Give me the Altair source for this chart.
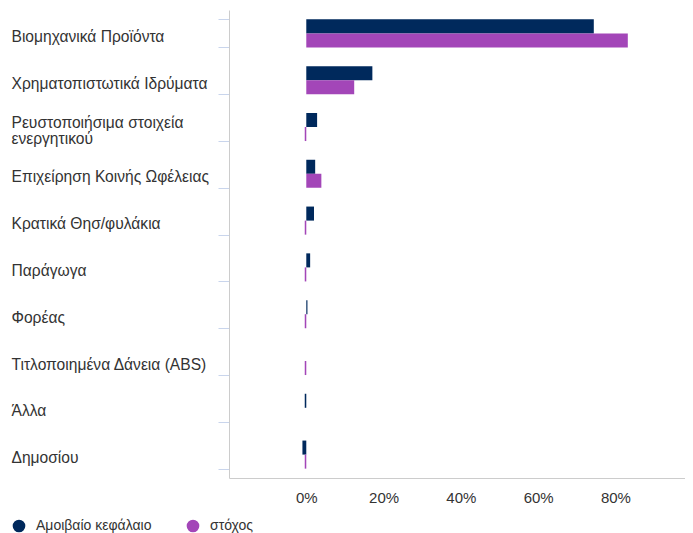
import altair as alt
import pandas as pd

categories = [
    "Βιομηχανικά Προϊόντα",
    "Χρηματοπιστωτικά Ιδρύματα",
    "Ρευστοποιήσιμα στοιχεία ενεργητικού",
    "Επιχείρηση Κοινής Ωφέλειας",
    "Κρατικά Θησ/φυλάκια",
    "Παράγωγα",
    "Φορέας",
    "Τιτλοποιημένα Δάνεια (ABS)",
    "Άλλα",
    "Δημοσίου",
]
series_names = ["Αμοιβαίο κεφάλαιο", "στόχος"]
fund = [0.744, 0.171, 0.028, 0.023, 0.020, 0.010, 0.003, 0.0, -0.004, -0.010]
target = [0.832, 0.124, -0.004, 0.039, -0.004, -0.004, -0.004, -0.004, 0.0, -0.004]
x_ticks = [0, 0.2, 0.4, 0.6, 0.8]
colors = ["#00295c", "#a346b8"]

rows = []
for c, f, t in zip(categories, fund, target):
    rows.append({"cat": c, "series": series_names[0], "value": f})
    rows.append({"cat": c, "series": series_names[1], "value": t})
df = pd.DataFrame(rows)

font = "Liberation Sans"
wrapped = "Ρευστοποιήσιμα στοιχεία ενεργητικού"

chart = (
    alt.Chart(df)
    .mark_bar()
    .encode(
        y=alt.Y(
            "cat:N",
            sort=categories,
            scale=alt.Scale(paddingInner=0.4, paddingOuter=0.2),
            axis=alt.Axis(
                title=None,
                labelAlign="left",
                labelBaseline="middle",
                labelPadding=207,
                labelOffset={"condition": {"test": f"datum.label == '{wrapped}'", "value": -5}, "value": 3},
                tickSize=11,
                tickBand="extent",
                tickColor="#c9d5ec",
                domainColor="#cccccc",
                labelFontSize=15.6,
                labelColor="#333333",
                labelFont=font,
                labelLimit=300,
                labelLineHeight=16,
                labelExpr=f"datum.label == '{wrapped}' ? ['Ρευστοποιήσιμα στοιχεία', 'ενεργητικού'] : datum.label",
            ),
        ),
        x=alt.X(
            "value:Q",
            scale=alt.Scale(domain=[-0.2, 0.98], nice=False, zero=False),
            axis=alt.Axis(
                title=None,
                values=x_ticks,
                format=".0%",
                grid=False,
                ticks=False,
                labelPadding=12,
                labelFontSize=15,
                labelColor="#333333",
                labelFont=font,
                domainColor="#cccccc",
            ),
        ),
        yOffset=alt.YOffset("series:N", sort=series_names),
        color=alt.Color(
            "series:N",
            sort=series_names,
            scale=alt.Scale(domain=series_names, range=colors),
            legend=alt.Legend(
                title=None,
                orient="none",
                legendX=-217,
                legendY=509,
                direction="horizontal",
                symbolType="circle",
                symbolSize=160,
                symbolStrokeWidth=0,
                labelFontSize=14,
                labelColor="#333333",
                labelFont=font,
                labelOffset=10,
                columnPadding=34,
            ),
        ),
    )
    .properties(
        width=456,
        height=468,
        autosize=alt.AutoSizeParams(type="none"),
        padding={"left": 221, "top": 2, "right": 0, "bottom": 56},
    )
    .configure_view(stroke=None)
)

chart.save("out.html", embed_options={"renderer": "svg", "actions": False})
